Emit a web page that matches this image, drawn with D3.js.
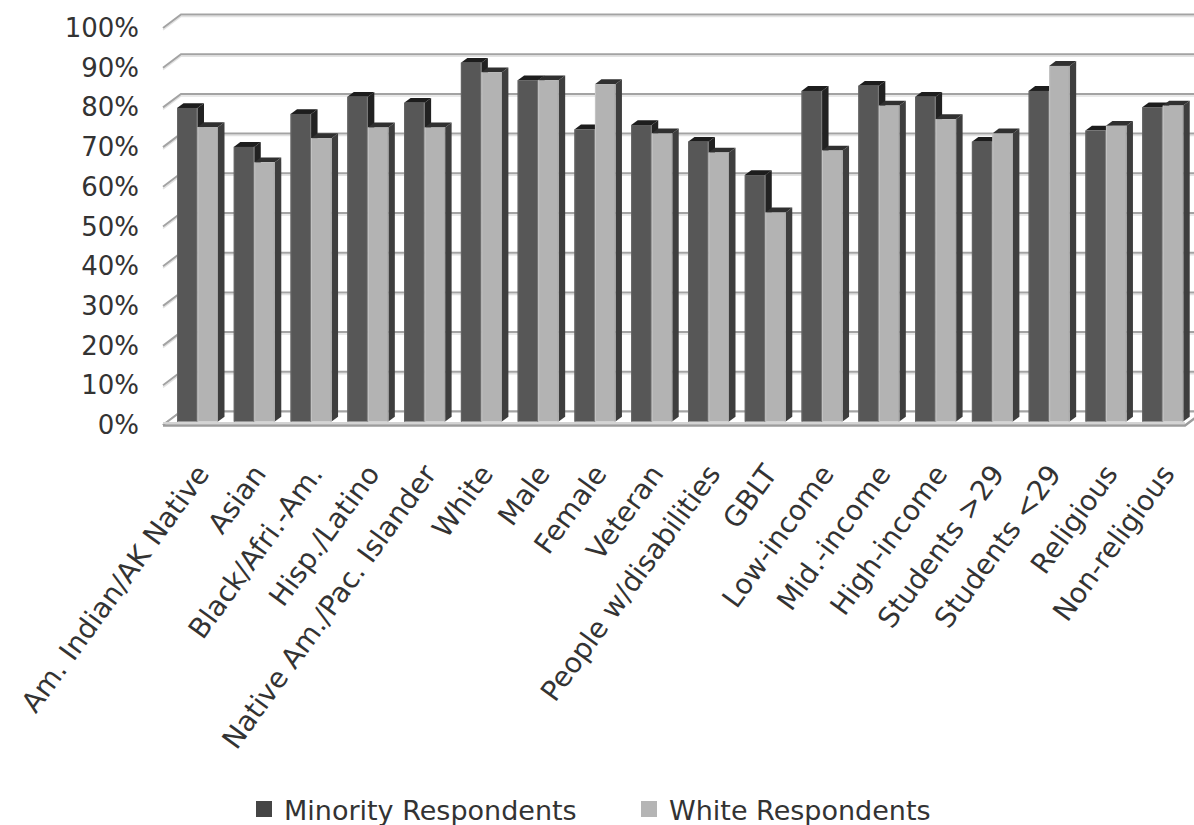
<!DOCTYPE html>
<html>
<head>
<meta charset="utf-8">
<script src="https://cdn.jsdelivr.net/npm/d3@7"></script>
<style>
  html, body { margin: 0; padding: 0; background: #fff; }
  svg { display: block; }
  text { font-family: "DejaVu Sans", sans-serif; fill: #333333; }
</style>
</head>
<body>
<svg id="chart" width="1194" height="825"></svg>
<script>
const categories = ["Am. Indian/AK Native","Asian","Black/Afri.-Am.","Hisp./Latino","Native Am./Pac. Islander","White","Male","Female","Veteran","People w/disabilities","GBLT","Low-income","Mid.-income","High-income","Students >29","Students <29","Religious","Non-religious"];
const seriesNames = ["Minority Respondents","White Respondents"];
const minorityValues = [79, 69.2, 77.5, 81.8, 80.3, 90.4, 86, 73.6, 74.7, 70.5, 62.1, 83.3, 84.6, 81.8, 70.5, 83.3, 73.3, 79.2];
const whiteValues    = [74.2, 65.3, 71.4, 74.1, 74.1, 88, 86, 85, 72.6, 67.8, 52.7, 68.3, 79.6, 76.2, 72.6, 89.6, 74.5, 79.6];
const yTicks = [0,10,20,30,40,50,60,70,80,90,100];

const svg = d3.select("#chart");

// geometry
const left = 163, right = 1185;
const D = [18, -13.5];          // wall depth offset
const barShift = [4.5, -3.4];   // bar row depth position
const bd = [6.5, -4.8];         // bar depth

const y = d3.scaleLinear().domain([0,100]).range([425, 28]);
const x = d3.scaleBand().domain(categories).range([left, right]).paddingInner(0).paddingOuter(0);
const xs = d3.scaleBand().domain(seriesNames).range([9.5, 9.5 + 41]);

// gridlines (back wall + left wall)
const grid = svg.append("g");
yTicks.forEach(t => {
  const yy = y(t);
  if (t > 0) {
    grid.append("path")
      .attr("d", `M${left},${yy+2}L${left+D[0]},${yy+D[1]+2}L${right+D[0]+20},${yy+D[1]+2}`)
      .attr("fill","none").attr("stroke","#e2e2e2").attr("stroke-width",1.5);
  }
  grid.append("path")
    .attr("d", `M${left},${yy}L${left+D[0]},${yy+D[1]}L${right+D[0]+20},${yy+D[1]}`)
    .attr("fill","none").attr("stroke","#a3a3a3").attr("stroke-width",2);
});

// floor
const y0 = y(0);
svg.append("path")
  .attr("d", `M${left},${y0}L${right},${y0}L${right+D[0]},${y0+D[1]}L${left+D[0]},${y0+D[1]}Z`)
  .attr("fill","#ffffff").attr("stroke","none");
svg.append("path")
  .attr("d", `M${left},${y0}L${left+D[0]},${y0+D[1]}`)
  .attr("fill","none").attr("stroke","#a3a3a3").attr("stroke-width",2);
svg.append("path")
  .attr("d", `M${left+D[0]},${y0+D[1]}L${right+D[0]+20},${y0+D[1]}`)
  .attr("fill","none").attr("stroke","#a3a3a3").attr("stroke-width",2);

// bars
const colors = {
  "Minority Respondents": {front:"#575757", top:"#1d1d1d", side:"#222222"},
  "White Respondents":    {front:"#b3b3b3", top:"#303030", side:"#3e3e3e"}
};
const rows = [];
categories.forEach((c,i) => {
  rows.push({cat:c, s:seriesNames[0], v:minorityValues[i]});
  rows.push({cat:c, s:seriesNames[1], v:whiteValues[i]});
});
const bars = svg.append("g");
rows.forEach(r => {
  const x0 = x(r.cat) + xs(r.s) + barShift[0];
  const w = xs.bandwidth();
  const yb = y(0) + barShift[1];
  const yt = y(r.v) + barShift[1];
  const col = colors[r.s];
  const g = bars.append("g");
  g.append("path")
    .attr("d", `M${x0+w},${yb}L${x0+w},${yt}L${x0+w+bd[0]},${yt+bd[1]}L${x0+w+bd[0]},${yb+bd[1]}Z`)
    .attr("fill", col.side);
  g.append("path")
    .attr("d", `M${x0},${yt}L${x0+w},${yt}L${x0+w+bd[0]},${yt+bd[1]}L${x0+bd[0]},${yt+bd[1]}Z`)
    .attr("fill", col.top);
  g.append("rect")
    .attr("x", x0).attr("y", yt).attr("width", w).attr("height", yb - yt)
    .attr("fill", col.front);
  g.append("line")
    .attr("x1", x0+0.5).attr("x2", x0+0.5).attr("y1", yt).attr("y2", yb)
    .attr("stroke", r.s === seriesNames[0] ? "#666" : "#c4c4c4").attr("stroke-width", 1);
  g.append("line")
    .attr("x1", x0+w-0.5).attr("x2", x0+w-0.5).attr("y1", yt).attr("y2", yb)
    .attr("stroke", r.s === seriesNames[0] ? "#7a7a7a" : "#a8a8a8").attr("stroke-width", 1);
});

// floor front edge
svg.append("line")
  .attr("x1", left).attr("x2", right).attr("y1", y0-2).attr("y2", y0-2)
  .attr("stroke","#d4d4d4").attr("stroke-width",2);
svg.append("path")
  .attr("d", `M${left},${y0+0.5}L${right},${y0+0.5}L${right+D[0]},${y0+D[1]+0.5}`)
  .attr("fill","none").attr("stroke","#9c9c9c").attr("stroke-width",2.5);

// y labels
svg.append("g").selectAll("text").data(yTicks).join("text")
  .attr("x", 139).attr("y", d => y(d))
  .attr("text-anchor","end").attr("dominant-baseline","central")
  .attr("font-size", 26)
  .text(d => d + "%");

// x labels
svg.append("g").selectAll("text").data(categories).join("text")
  .attr("transform", d => `translate(${x(d) + barShift[0] + 9.5 + 20.5 + 13},474) rotate(-54)`)
  .attr("text-anchor","end")
  .attr("font-size", 28)
  .text(d => d);

// legend
const legend = svg.append("g");
const legendX = [256, 641];
seriesNames.forEach((s,i) => {
  legend.append("rect")
    .attr("x", legendX[i]).attr("y", 801).attr("width", 16).attr("height", 16)
    .attr("fill", i === 0 ? "#454545" : "#b5b5b5");
  legend.append("text")
    .attr("x", legendX[i] + 28).attr("y", 820)
    .attr("font-size", 27)
    .text(s);
});
</script>
</body>
</html>
